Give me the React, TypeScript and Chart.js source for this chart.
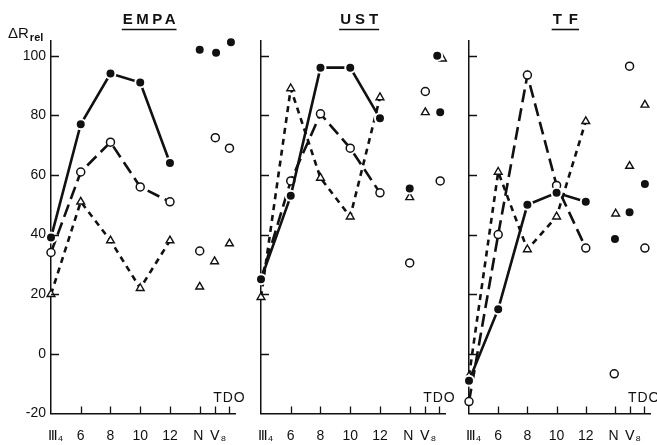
import React, { useEffect, useRef } from 'react';
import { Chart, registerables } from 'chart.js';

Chart.register(...registerables);

// ---- shared axis values ----
const xPositions = [4, 6, 8, 10, 12];
const xLabelValues = [4.3, 6, 8, 10, 12, 13.9, 15.25];
const xLabelTexts = ['Ⅲ₄', '6', '8', '10', '12', 'N', 'Ⅴ₈'];
const xTickMarks = [6, 8, 10, 12, 14, 15, 16];
const yTickValues = [-20, 0, 20, 40, 60, 80, 100];
const yTickMarks = [0, 20, 40, 60, 80, 100];

// ---- EMPA ----
const empaFilled = [39, 77, 94, 91, 64];
const empaOpen = [34, 61, 71, 56, 51];
const empaTri = [20, 51, 38, 22, 38];
const empaFilledTdo: [number, number][] = [[14, 102], [15.1, 101], [16.1, 104.5]];
const empaOpenTdo: [number, number][] = [[14, 34.5], [15.05, 72.5], [16, 69]];
const empaTriTdo: [number, number][] = [[14, 22.5], [15, 31], [16, 37]];

// ---- UST ----
const ustFilled = [25, 53, 96, 96, 79];
const ustOpen = [25, 58, 80.5, 69, 54];
const ustTri = [19, 89, 59, 46, 86];
const ustFilledTdo: [number, number][] = [[14, 55.5], [15.85, 100], [16.05, 81]];
const ustOpenTdo: [number, number][] = [[14, 30.5], [15.05, 88], [16.05, 58]];
const ustTriTdo: [number, number][] = [[14, 52.5], [15.05, 81], [16.2, 99]];

// ---- TF ----
const tfFilled = [-9, 15, 50, 54, 51];
const tfOpen = [-16, 40, 93.5, 56.5, 35.5];
const tfTri = [-7.5, 61, 35, 46, 78];
const tfFilledTdo: [number, number][] = [[14, 38.5], [15, 47.5], [16.05, 57]];
const tfOpenTdo: [number, number][] = [[13.95, -6.7], [15, 96.5], [16.05, 35.5]];
const tfTriTdo: [number, number][] = [[14.05, 47], [15, 63], [16.05, 83.5]];

const INK = '#111';
const FONT = "'Liberation Sans', Arial, sans-serif";

const filledStyle = {
  pointStyle: 'circle',
  pointRadius: 5,
  pointBackgroundColor: INK,
  pointBorderColor: '#fff',
  pointBorderWidth: 2,
};
const openStyle = {
  pointStyle: 'circle',
  pointRadius: 4,
  pointBackgroundColor: '#fff',
  pointBorderColor: INK,
  pointBorderWidth: 1.5,
};
const triStyle = {
  pointStyle: 'triangle',
  pointRadius: 4.5,
  pointBackgroundColor: '#fff',
  pointBorderColor: INK,
  pointBorderWidth: 1.4,
};

function makeDatasets(
  filled: number[], open: number[], tri: number[],
  filledTdo: [number, number][], openTdo: [number, number][], triTdo: [number, number][]
) {
  const toXY = (arr: number[]) => arr.map((v, i) => ({ x: xPositions[i], y: v }));
  const tdo = (arr: [number, number][]) => arr.map(([x, y]) => ({ x, y }));
  return [
    { data: toXY(filled), borderColor: INK, borderWidth: 2.6, clip: false, ...filledStyle },
    { data: toXY(open), borderColor: INK, borderWidth: 2.6, borderDash: [13, 6], clip: false, ...openStyle },
    { data: toXY(tri), borderColor: INK, borderWidth: 2.6, borderDash: [6, 5], clip: false, ...triStyle },
    { data: tdo(filledTdo), showLine: false, clip: false, ...filledStyle },
    { data: tdo(openTdo), showLine: false, clip: false, ...openStyle },
    { data: tdo(triTdo), showLine: false, clip: false, ...triStyle },
  ];
}

const decoPlugin = {
  id: 'deco',
  afterDraw(chart: any, _args: any, opts: any) {
    const { ctx, chartArea } = chart;
    const xs = chart.scales.x;
    const ys = chart.scales.y;
    ctx.save();
    ctx.strokeStyle = INK;
    ctx.fillStyle = INK;
    // inner tick marks
    ctx.lineWidth = 1.3;
    ctx.beginPath();
    for (const v of xTickMarks) {
      const px = Math.round(xs.getPixelForValue(v)) + 0.5;
      ctx.moveTo(px, chartArea.bottom);
      ctx.lineTo(px, chartArea.bottom - 7);
    }
    for (const v of yTickMarks) {
      const py = Math.round(ys.getPixelForValue(v)) + 0.5;
      ctx.moveTo(chartArea.left, py);
      ctx.lineTo(chartArea.left + 8, py);
    }
    ctx.stroke();

    // title with underline
    ctx.font = `bold 15px ${FONT}`;
    (ctx as any).letterSpacing = `${opts.spacing}px`;
    const w = ctx.measureText(opts.title).width - opts.spacing;
    const cx = xs.getPixelForValue(opts.titleAt);
    ctx.textAlign = 'left';
    ctx.textBaseline = 'alphabetic';
    ctx.fillText(opts.title, cx - w / 2, 24);
    ctx.lineWidth = 1.6;
    ctx.beginPath();
    ctx.moveTo(cx - w / 2 - 1, 29.5);
    ctx.lineTo(cx + w / 2 + 1, 29.5);
    ctx.stroke();

    // TDO label
    ctx.font = `14px ${FONT}`;
    (ctx as any).letterSpacing = '1px';
    ctx.textAlign = 'center';
    ctx.textBaseline = 'middle';
    ctx.fillText('TDO', xs.getPixelForValue(16), ys.getPixelForValue(-15));

    // Y axis title
    if (opts.deltaR) {
      (ctx as any).letterSpacing = '0px';
      ctx.textAlign = 'left';
      ctx.textBaseline = 'alphabetic';
      ctx.font = `15px ${FONT}`;
      ctx.fillText('ΔR', 8, 38);
      const dw = ctx.measureText('ΔR').width;
      ctx.font = `bold 11px ${FONT}`;
      ctx.fillText('rel', 8 + dw + 1, 41);
    }
    ctx.restore();
  },
};

type PanelProps = {
  left: number;
  width: number;
  padL: number;
  padR: number;
  yWidth: number;
  showY: boolean;
  title: string;
  spacing: number;
  deltaR: boolean;
  datasets: any[];
};

function Panel(p: PanelProps) {
  const ref = useRef<HTMLCanvasElement | null>(null);
  useEffect(() => {
    if (!ref.current) return;
    const chart = new Chart(ref.current, {
      type: 'line',
      data: { datasets: p.datasets },
      plugins: [decoPlugin],
      options: {
        responsive: false,
        animation: false,
        layout: { padding: { top: 40.8, bottom: 0, left: p.padL, right: p.padR } },
        elements: { line: { tension: 0 } },
        plugins: {
          legend: { display: false },
          tooltip: { enabled: false },
          deco: { title: p.title, titleAt: 10.6, spacing: p.spacing, deltaR: p.deltaR },
        } as any,
        scales: {
          x: {
            type: 'linear',
            min: 4,
            max: 16.4,
            grid: { display: false, drawTicks: false },
            border: { display: true, color: INK, width: 1.5 },
            afterBuildTicks: (s: any) => {
              s.ticks = xLabelValues.map((v) => ({ value: v }));
            },
            afterFit: (s: any) => {
              s.height = 31.5;
            },
            ticks: {
              autoSkip: false,
              maxRotation: 0,
              minRotation: 0,
              padding: 14,
              color: INK,
              font: { size: 14, family: FONT },
              callback: (v: any) => {
                const i = xLabelValues.indexOf(Number(v));
                return i >= 0 ? xLabelTexts[i] : '';
              },
            },
          },
          y: {
            type: 'linear',
            min: -20,
            max: 105,
            grid: { display: false, drawTicks: false },
            border: { display: true, color: INK, width: 1.5 },
            afterBuildTicks: (s: any) => {
              s.ticks = yTickValues.map((v) => ({ value: v }));
            },
            afterFit: (s: any) => {
              s.width = p.yWidth;
            },
            ticks: {
              display: p.showY,
              autoSkip: false,
              padding: 5,
              color: INK,
              font: { size: 14, family: FONT },
            },
          },
        },
      } as any,
    });
    return () => chart.destroy();
  }, []);
  return (
    <canvas
      ref={ref}
      width={p.width}
      height={445}
      style={{ position: 'absolute', left: p.left, top: 0, width: p.width, height: 445 }}
    />
  );
}

export default function App() {
  return (
    <div style={{ position: 'absolute', left: 0, top: 0, width: 657, height: 445, background: '#fff', overflow: 'hidden' }}>
      <Panel left={0} width={250} padL={0} padR={14.6} yWidth={51} showY={true} title="EMPA" spacing={3.5} deltaR={true}
        datasets={makeDatasets(empaFilled, empaOpen, empaTri, empaFilledTdo, empaOpenTdo, empaTriTdo)} />
      <Panel left={235} width={225} padL={26} padR={14.6} yWidth={0} showY={false} title="UST" spacing={4} deltaR={false}
        datasets={makeDatasets(ustFilled, ustOpen, ustTri, ustFilledTdo, ustOpenTdo, ustTriTdo)} />
      <Panel left={445} width={212} padL={24} padR={3.6} yWidth={0} showY={false} title="TF" spacing={7} deltaR={false}
        datasets={makeDatasets(tfFilled, tfOpen, tfTri, tfFilledTdo, tfOpenTdo, tfTriTdo)} />
    </div>
  );
}
